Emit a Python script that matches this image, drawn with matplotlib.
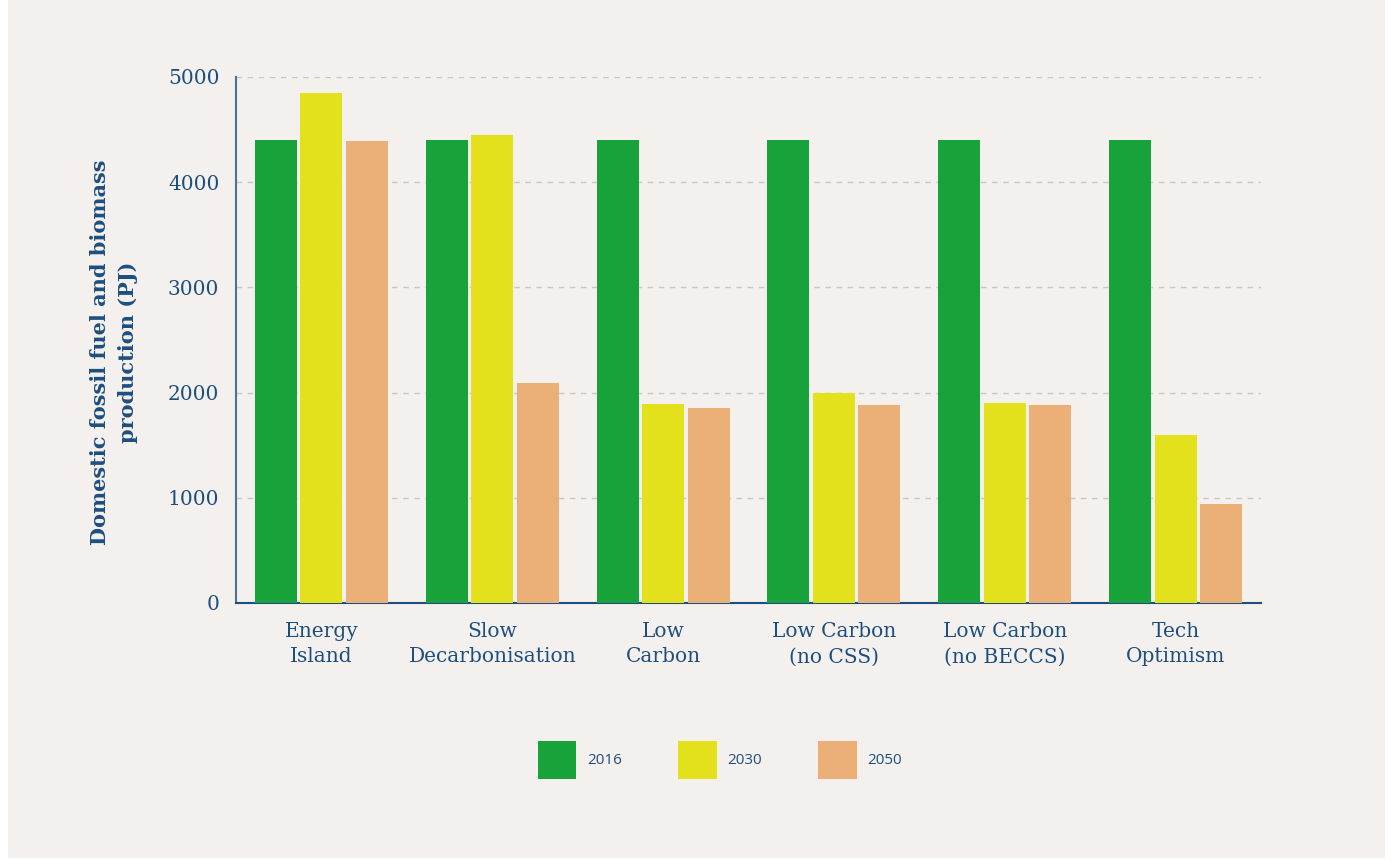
import matplotlib.pyplot as plt
from matplotlib.patches import Rectangle, Patch
import numpy as np

# data (PJ)
scenarios = ["Energy\nIsland", "Slow\nDecarbonisation", "Low\nCarbon",
             "Low Carbon\n(no CSS)", "Low Carbon\n(no BECCS)", "Tech\nOptimism"]
years = ["2016", "2030", "2050"]
vals_2016 = [4400, 4400, 4400, 4400, 4400, 4400]
vals_2030 = [4850, 4450, 1890, 2000, 1900, 1600]
vals_2050 = [4390, 2090, 1855, 1880, 1880, 940]

colors = ["#18A23A", "#E3E11B", "#EBB077"]
blue = "#1D4F7E"
bg = "#F3F0ED"

fig = plt.figure(figsize=(13.91, 8.60), dpi=100)
fig.patch.set_facecolor("white")
fig.patches.append(Rectangle((8 / 1391, 2 / 860), 1377 / 1391, 858 / 860,
                             transform=fig.transFigure, facecolor=bg,
                             edgecolor="none", zorder=-10))

ax = fig.add_axes([236 / 1391, 1 - 603 / 860, 1025 / 1391, 526 / 860])
ax.set_facecolor(bg)

x = np.arange(len(scenarios))
w = 0.246
step = 0.266
for i, (vals, c) in enumerate(zip([vals_2016, vals_2030, vals_2050], colors)):
    ax.bar(x + (i - 1) * step, vals, width=w, color=c, zorder=3)

ax.set_xlim(-0.5, len(scenarios) - 0.5)
ax.set_ylim(0, 5000)
ax.set_yticks([0, 1000, 2000, 3000, 4000, 5000])
ax.yaxis.grid(True, linestyle=(0, (4, 4)), color="#C9C6C3", linewidth=1, zorder=0)
ax.set_axisbelow(True)

for s in ["top", "right"]:
    ax.spines[s].set_visible(False)
ax.spines["left"].set_color("#4C729A")
ax.spines["bottom"].set_color(blue)
ax.spines["left"].set_linewidth(1.5)
ax.spines["bottom"].set_linewidth(1.5)

ax.set_xticks(x)
ax.set_xticklabels(scenarios, fontsize=14.5, color=blue, family="DejaVu Serif",
                   linespacing=1.4)
ax.tick_params(axis="x", length=0, pad=14)
ax.tick_params(axis="y", length=0, pad=12, labelsize=14.5, labelcolor=blue)
for t in ax.get_yticklabels():
    t.set_family("DejaVu Serif")

fig.text(114 / 1391, 1 - 352 / 860,
         "Domestic fossil fuel and biomass\nproduction (PJ)",
         rotation=90, ha="center", va="center", fontsize=15, fontweight="bold",
         color=blue, family="DejaVu Serif", linespacing=1.55)

handles = [Patch(facecolor=c, edgecolor="none") for c in colors]
fig.legend(handles, years, loc="center", bbox_to_anchor=(720 / 1391, 1 - 760 / 860),
           ncol=3, frameon=False, labelcolor=blue,
           handlelength=2.5, handleheight=3.4, handletextpad=0.7,
           columnspacing=3.7, prop={"family": "Open Sans", "size": 11})

fig.savefig("out.png", dpi=100, facecolor=fig.get_facecolor())
